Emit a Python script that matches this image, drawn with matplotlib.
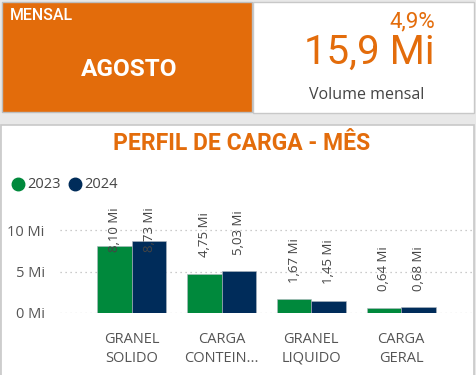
import matplotlib
matplotlib.use("Agg")
import matplotlib.pyplot as plt
from matplotlib.patches import Rectangle

W, H = 476, 375

categorias = ["GRANEL\nSOLIDO", "CARGA\nCONTEIN...", "GRANEL\nLIQUIDO", "CARGA\nGERAL"]
v2023 = [8.10, 4.75, 1.67, 0.64]
v2024 = [8.73, 5.03, 1.45, 0.68]
anos = ["2023", "2024"]
yticks = [0, 5, 10]
ytick_labels = ["0 Mi", "5 Mi", "10 Mi"]

mes = "AGOSTO"
volume_mensal = "15,9 Mi"
variacao = "4,9%"

LARANJA = "#E36C0B"
VERDE = "#00893C"
AZUL = "#002C5A"
CINZA = "#555555"


def px(x, y, w, h):
    return [x / W, 1 - (y + h) / H, w / W, h / H]


fig = plt.figure(figsize=(W / 100, H / 100), dpi=100)
fig.patch.set_facecolor("#e8e8e8")
plt.rcParams["font.family"] = ["Open Sans", "DejaVu Sans"]

# cards
bg = fig.add_axes([0, 0, 1, 1])
bg.set_xlim(0, W)
bg.set_ylim(H, 0)
bg.axis("off")
bg.add_patch(Rectangle((2, 2), 250, 110, facecolor=LARANJA, edgecolor="#bdbdbd", lw=1))
bg.add_patch(Rectangle((253, 2), 221, 111, facecolor="white", edgecolor="#c8c8c8", lw=1))
bg.add_patch(Rectangle((0.5, 125), 473, 252, facecolor="white", edgecolor="#c8c8c8", lw=1.2))

bg.text(10, 15, "MENSAL", color="white", fontsize=11.5, fontweight="medium", va="center", ha="left",
        family=["Roboto", "DejaVu Sans"])
bg.text(129, 70, mes, color="white", fontsize=17.5, fontweight="bold", va="center", ha="center",
        family=["Roboto", "DejaVu Sans"])
bg.text(369, 52, volume_mensal, color=LARANJA, fontsize=29, va="center", ha="center",
        family=["Roboto", "DejaVu Sans"])
bg.text(412, 22, variacao, color=LARANJA, fontsize=16, va="center", ha="center",
        family=["Roboto", "DejaVu Sans"])
bg.text(367, 95, "Volume mensal", color="#444444", fontsize=11.5, va="center", ha="center")

bg.text(242, 144, "PERFIL DE CARGA - MÊS", color=LARANJA, fontsize=16.5, fontweight="bold",
        va="center", ha="center", family=["Roboto", "DejaVu Sans"])

# legend
for xc, cor, ano in [(18, VERDE, anos[0]), (75, AZUL, anos[1])]:
    bg.plot(xc, 184, "o", color=cor, ms=9)
    bg.text(xc + 9, 184, ano, color="#444444", fontsize=10.5, va="center", ha="left")

# bar chart
ax = fig.add_axes(px(60, 207, 412, 106))
ax.set_facecolor("none")
n = len(categorias)
pos = list(range(n))
bw = 0.385
ax.bar([p - bw / 2 for p in pos], v2023, bw, color=VERDE, edgecolor="#b0b8c0", lw=0.4, zorder=3)
ax.bar([p + bw / 2 for p in pos], v2024, bw, color=AZUL, edgecolor="#b0b8c0", lw=0.4, zorder=3)
ax.set_xlim(-0.8, n - 0.21)
ax.set_ylim(0, 12.8)
ax.set_yticks(yticks)
ax.set_yticklabels(ytick_labels)
ax.grid(axis="y", linestyle=(0, (1, 3)), color="#bbbbbb", lw=0.9, zorder=0)
ax.set_xticks(pos)
ax.set_xticklabels(categorias, linespacing=1.3)
ax.tick_params(length=0, colors=CINZA, labelsize=10.5)
ax.tick_params(axis="y", pad=11)
ax.tick_params(axis="x", pad=14)
for s in ax.spines.values():
    s.set_visible(False)

for serie, sinal in [(v2023, -1), (v2024, 1)]:
    for p, v in zip(pos, serie):
        txt = f"{v:.2f} Mi".replace(".", ",")
        x = p + sinal * bw / 2
        if v > 7:
            ax.text(x, 12.8, txt, rotation=90, ha="center", va="top", fontsize=9.5,
                    color="#444444", zorder=4)
        else:
            ax.annotate(txt, (x, v), xytext=(0, 12), textcoords="offset points", rotation=90,
                        ha="center", va="bottom", fontsize=9.5, color="#444444", zorder=4)

fig.savefig("out.png", dpi=100, facecolor=fig.get_facecolor())
